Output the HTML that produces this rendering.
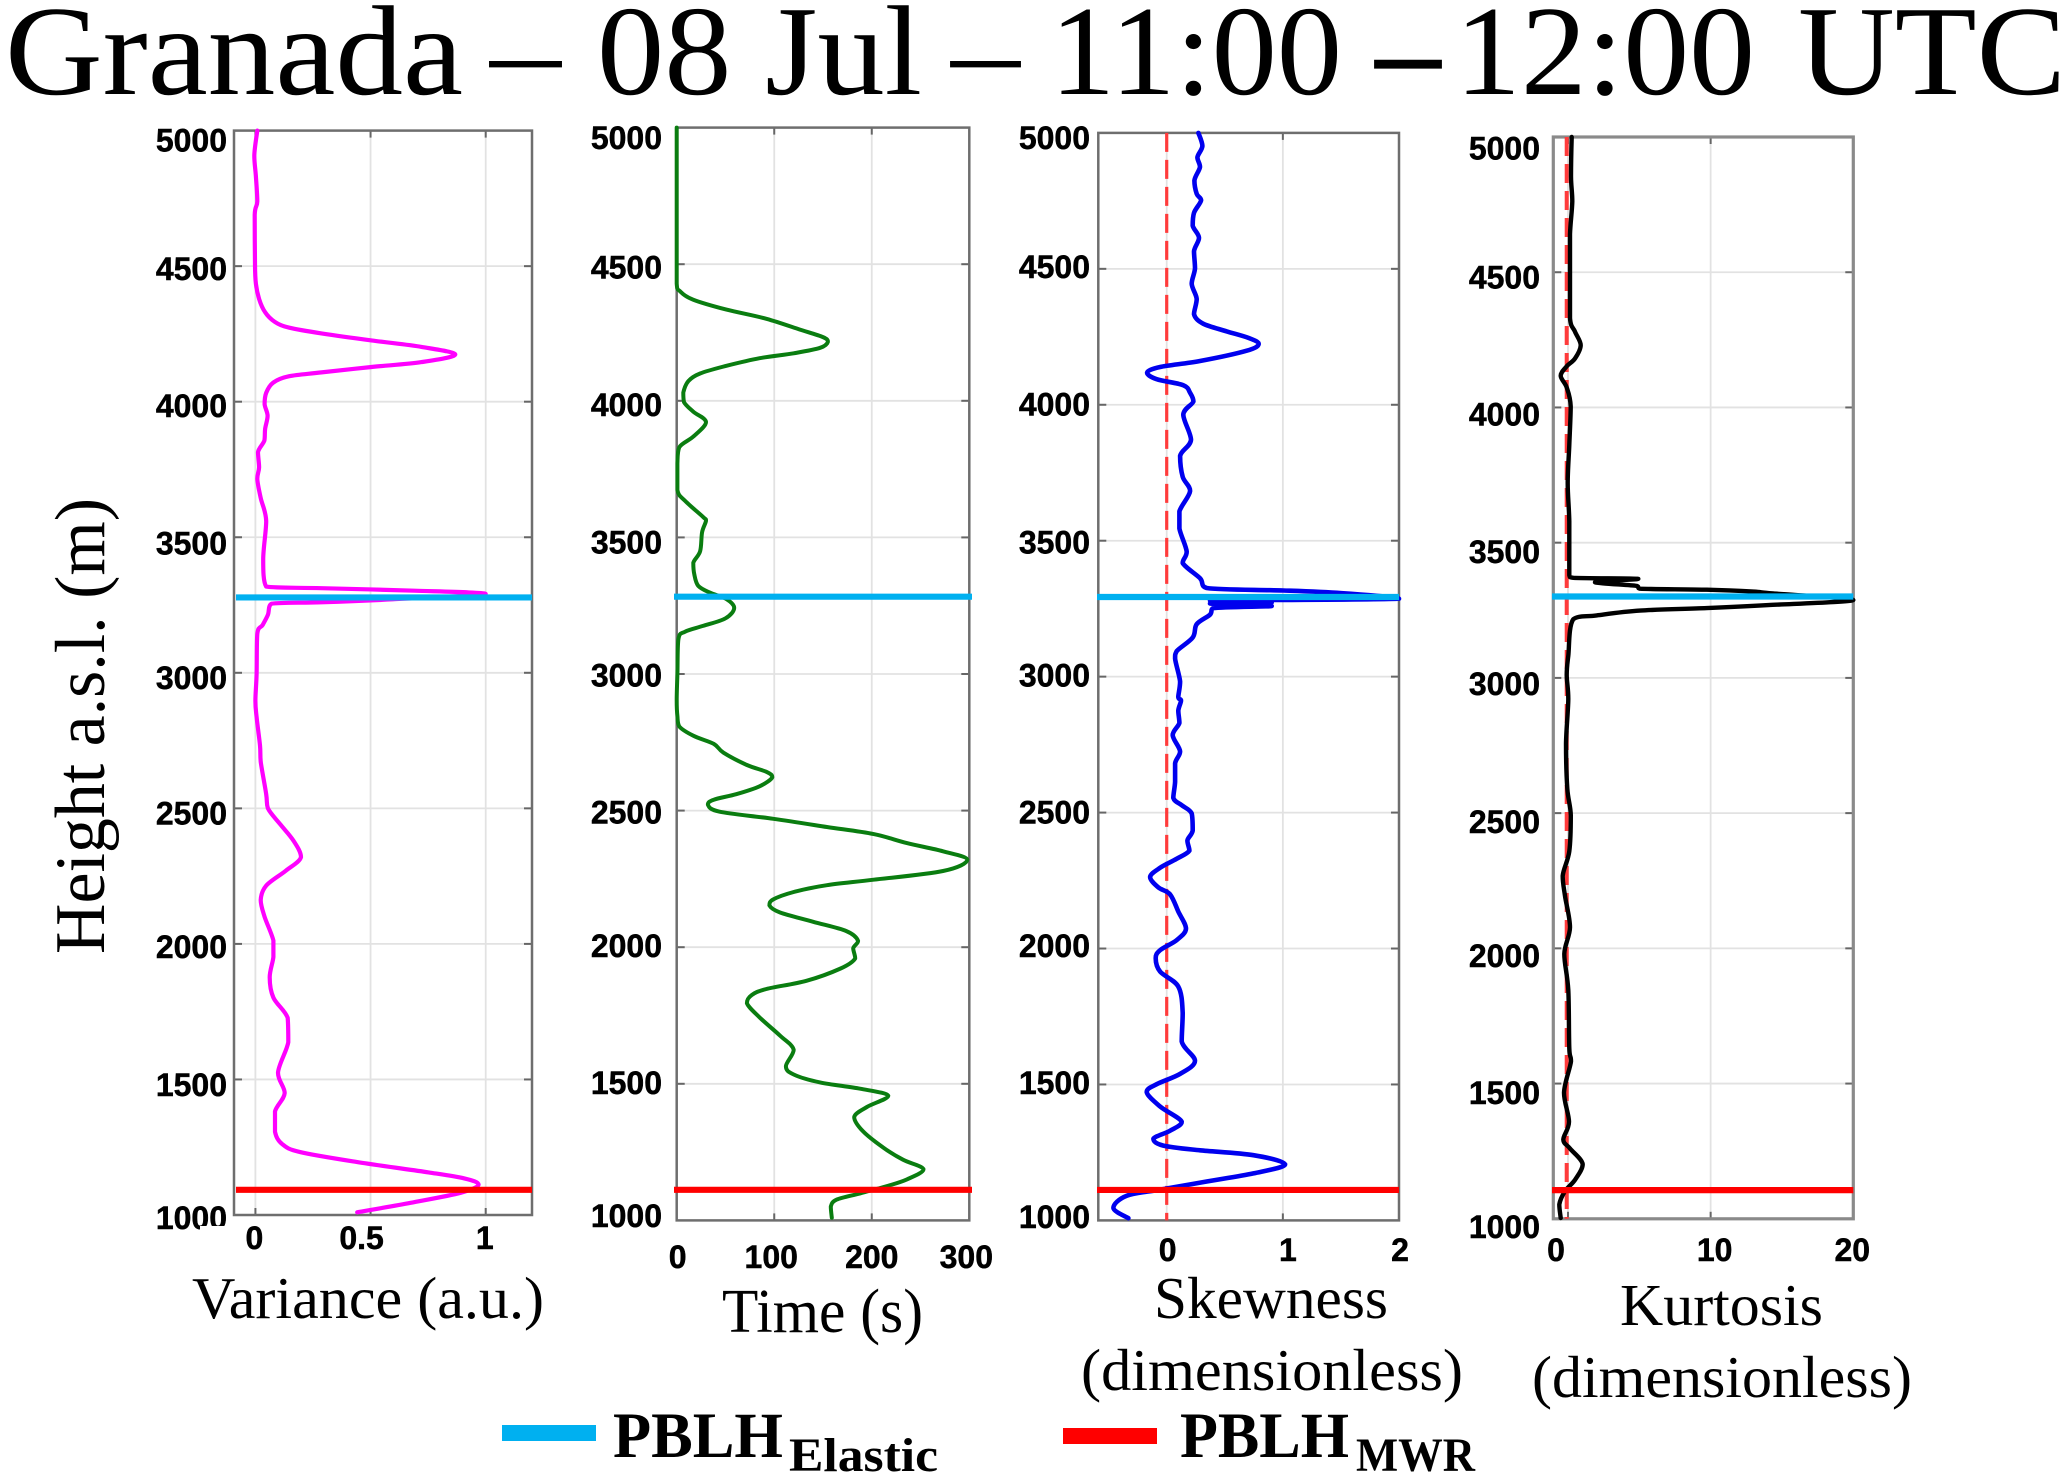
<!DOCTYPE html>
<html lang="en">
<head>
<meta charset="utf-8">
<title>Granada – 08 Jul – 11:00 –12:00 UTC</title>
<style>
html,body{margin:0;padding:0;background:#fff;}
svg{display:block;}
text{font-family:"Liberation Serif",serif;fill:#000;}
.tick{font-family:"Liberation Sans",sans-serif;font-weight:bold;font-size:32px;stroke:#000;stroke-width:0.5px;}
</style>
</head>
<body>
<svg id="chart" xmlns="http://www.w3.org/2000/svg" width="2067" height="1473" viewBox="0 0 2067 1473">
  <rect x="0" y="0" width="2067" height="1473" fill="#fff"/>
  <g font-size="128">
    <text x="5" y="94" textLength="458" lengthAdjust="spacingAndGlyphs">Granada</text>
    <text x="490" y="94" textLength="71" lengthAdjust="spacingAndGlyphs">–</text>
    <text x="597" y="94" textLength="325" lengthAdjust="spacingAndGlyphs">08 Jul</text>
    <text x="951" y="94" textLength="69" lengthAdjust="spacingAndGlyphs">–</text>
    <text x="1050" y="94" textLength="292" lengthAdjust="spacingAndGlyphs">11:00</text>
    <text x="1375" y="94" font-weight="bold" textLength="66" lengthAdjust="spacingAndGlyphs">–</text>
    <text x="1455" y="94" textLength="300" lengthAdjust="spacingAndGlyphs">12:00</text>
    <text x="1798" y="94" textLength="268" lengthAdjust="spacingAndGlyphs">UTC</text>
  </g>
  <text transform="translate(104,954) rotate(-90)" font-size="71" textLength="456" lengthAdjust="spacingAndGlyphs">Height a.s.l. (m)</text>
  <g id="panels"></g>
  <rect x="200" y="1226" width="30" height="8" fill="#fff"/>
  <text x="192" y="1318" font-size="59" textLength="352" lengthAdjust="spacingAndGlyphs">Variance (a.u.)</text>
  <text x="722" y="1332" font-size="62" textLength="201" lengthAdjust="spacingAndGlyphs">Time (s)</text>
  <text x="1154" y="1318" font-size="59" textLength="234" lengthAdjust="spacingAndGlyphs">Skewness</text>
  <text x="1081" y="1390" font-size="59" textLength="382" lengthAdjust="spacingAndGlyphs">(dimensionless)</text>
  <text x="1620" y="1325" font-size="59" textLength="203" lengthAdjust="spacingAndGlyphs">Kurtosis</text>
  <text x="1532" y="1397" font-size="59" textLength="380" lengthAdjust="spacingAndGlyphs">(dimensionless)</text>
  <g>
    <rect x="502" y="1425" width="94" height="16" fill="#00b0f0"/>
    <text x="613" y="1457" font-size="65" font-weight="bold" textLength="170" lengthAdjust="spacingAndGlyphs">PBLH</text>
    <text x="789" y="1471" font-size="48" font-weight="bold" textLength="149" lengthAdjust="spacingAndGlyphs">Elastic</text>
    <rect x="1063" y="1428" width="94" height="16" fill="#ff0000"/>
    <text x="1180" y="1457" font-size="65" font-weight="bold" textLength="169" lengthAdjust="spacingAndGlyphs">PBLH</text>
    <text x="1356" y="1471" font-size="48" font-weight="bold" textLength="119" lengthAdjust="spacingAndGlyphs">MWR</text>
  </g>
</svg>
<script>
// ---- Data ----
const heightTickLabels = [1000, 1500, 2000, 2500, 3000, 3500, 4000, 4500, 5000];

const varianceTicks = [0, 0.5, 1];
const varianceHeights = [5000,4908,4831,4739,4689,4506,4435,4379,4330,4294,4273,4252,4226,4202,4174,4146,4128,4108,4094,4071,4033,3991,3948,3899,3857,3814,3758,3716,3645,3560,3419,3318,3312,3303,3291,3271,3260,3255,3214,3176,3144,2996,2897,2837,2732,2672,2552,2500,2440,2380,2320,2270,2215,2162,2102,2012,1952,1877,1802,1727,1637,1525,1450,1382,1307,1262,1232,1195,1157,1135,1112,1082,1045,1010];
const varianceValues = [.008,-.005,.002,.008,-.003,-.002,.002,.016,.042,.085,.147,.287,.504,.721,.868,.721,.504,.287,.147,.078,.047,.040,.053,.042,.039,.011,.016,.008,.023,.047,.034,.047,.287,.690,1.0,.597,.287,.070,.054,.031,.008,.005,0,.005,.02,.023,.047,.054,.109,.166,.198,.132,.047,.023,.039,.078,.078,.062,.078,.14,.143,.098,.127,.085,.085,.116,.194,.442,.752,.907,.969,.891,.674,.442];

const timeTicks = [0, 100, 200, 300];
const timeHeights = [5000,4429,4401,4370,4334,4300,4261,4233,4216,4194,4174,4156,4128,4100,4072,4030,3995,3960,3922,3869,3830,3771,3673,3634,3575,3561,3519,3449,3407,3365,3323,3298,3274,3242,3204,3176,3155,3127,3001,2905,2846,2808,2774,2744,2712,2667,2642,2622,2589,2560,2540,2522,2496,2470,2440,2414,2381,2351,2320,2279,2247,2227,2202,2175,2153,2127,2093,2059,2023,1996,1959,1922,1877,1847,1825,1795,1743,1676,1624,1564,1534,1505,1482,1456,1415,1378,1326,1266,1222,1187,1150,1125,1099,1076,1050,1010];
const timeValues = [0,0,3.4,17,51,92,126,150,155,147,120,85,51,24,12,6.8,7.5,17,30,17,2.7,.7,.7,8.5,27,30,26,24,17,18,22,34,51,59,50,27,8.5,1.7,.7,0,.7,2.7,17,38,48,72,92,98,85,61,38,32,44,99,154,202,236,273,298,273,202,154,120,99,95,106,140,174,186,181,183,168,133,92,77,72,85,106,120,112,120,147,188,217,195,182,191,212,232,253,236,215,188,164,158,159];

const skewnessTicks = [0, 1, 2];
const skewnessHeights = [5000,4952,4910,4875,4825,4776,4752,4706,4659,4614,4565,4502,4445,4389,4333,4298,4270,4246,4224,4199,4161,4139,4118,4094,4072,4044,4012,3964,3871,3812,3735,3683,3608,3545,3460,3418,3362,3326,3317,3307,3287,3280,3273,3269,3260,3252,3228,3193,3144,3094,3066,2982,2925,2912,2875,2830,2785,2725,2681,2613,2554,2527,2497,2434,2397,2360,2330,2297,2263,2225,2199,2136,2073,2031,1994,1964,1915,1860,1763,1658,1587,1539,1501,1472,1419,1363,1330,1300,1275,1258,1240,1206,1173,1143,1113,1091,1046,1008];
const skewnessValues = [.273,.307,.264,.287,.238,.258,.296,.235,.224,.278,.235,.244,.215,.258,.235,.316,.517,.703,.792,.689,.287,-.057,-.169,-.086,.143,.201,.230,.143,.209,.115,.138,.201,.109,.109,.172,.138,.287,.344,1.004,1.506,2,.373,.904,.373,.904,.4,.373,.258,.224,.086,.072,.115,.1,.123,.1,.109,.052,.115,.072,.072,.057,.129,.215,.224,.178,.195,.086,-.057,-.143,-.072,.029,.1,.166,.086,-.057,-.095,-.057,.1,.138,.129,.244,.115,-.086,-.172,-.057,.129,.029,-.115,-.029,.287,.746,1.019,.746,.344,-.057,-.344,-.459,-.33];

const kurtosisTicks = [0, 10, 20];
const kurtosisHeights = [5000,4854,4762,4641,4500,4330,4280,4230,4181,4152,4117,4074,4004,3862,3720,3578,3380,3370,3366,3354,3340,3330,3326,3319,3312,3288,3269,3258,3249,3231,3217,3082,3011,2922,2756,2591,2492,2359,2268,2194,2078,1979,1846,1631,1582,1466,1359,1293,1260,1202,1144,1102,1053,1003];
const kurtosisValues = [.257,.21,.30,.14,.14,.14,.49,.89,.49,-.09,-.51,-.09,.19,.09,-.02,.09,.09,.37,4.93,1.89,4.81,5.05,9.72,12.99,14.39,20,14.04,9.72,5.05,2.01,.37,.02,-.09,.02,-.14,-.05,.2,.09,-.37,-.21,.14,-.26,.02,.09,.21,-.28,.07,-.33,.14,1.03,.49,-.21,-.61,-.51];

const pblhElasticHeights = [3278, 3283, 3293, 3301];
const pblhMwrHeights = [1093, 1112, 1112, 1106];
const referenceValues = [null, null, 0, -0.09];

// ---- Panel layout (pixel frame of each axes, hand-placed label positions) ----
const panels = [
  {key:'variance', left:234, right:532, top:130.6, bottom:1215, xMin:-0.093, xMax:1.201, ticks:varianceTicks, hs:varianceHeights, vs:varianceValues, color:'#ff00ff', width:4.2, labelRight:227, labelY:[1229,1096,958,824.5,689,554.6,417,280,151.7], xLabelBase:1249, xDx:[-1,-9,-1], lineLeft:236, frame:'#6e6e6e', frameW:2.5},
  {key:'time', left:676.7, right:969.3, top:127.6, bottom:1220.4, xMin:0, xMax:300, ticks:timeTicks, hs:timeHeights, vs:timeValues, color:'#0a7d10', width:4, labelRight:662, labelY:[1227,1094,957,823.7,686.7,553.5,416,278.7,149], xLabelBase:1268, xDx:[1,-3,0,-3], lineLeft:674, lineRight:972, frame:'#6e6e6e', frameW:2.5},
  {key:'skewness', left:1098.3, right:1399, top:132.9, bottom:1220.4, xMin:-0.589, xMax:2, ticks:skewnessTicks, hs:skewnessHeights, vs:skewnessValues, color:'#0000ee', width:4.6, labelRight:1090, labelY:[1227.8,1094,957,823.7,686.7,553.5,415.7,278,149], xLabelBase:1261, xDx:[1,5,1], lineLeft:1097, frame:'#6e6e6e', frameW:2.5},
  {key:'kurtosis', left:1553.3, right:1853.3, top:137, bottom:1218.8, xMin:-1.03, xMax:20, ticks:kurtosisTicks, hs:kurtosisHeights, vs:kurtosisValues, color:'#000000', width:4.4, labelRight:1540, labelY:[1238,1104,967,833,695,563,425.3,288.3,159.3], xLabelBase:1261, xDx:[-12,4,-1], lineLeft:1552, frame:'#8a8a8a', frameW:3.2}
];

const NS = 'http://www.w3.org/2000/svg';
const root = document.getElementById('panels');

function make(tag, parent, props) {
  const el = document.createElementNS(NS, tag);
  for (const k in props) el.setAttribute(k, props[k]);
  parent.appendChild(el);
  return el;
}

function clamp(v, a, b) {
  return Math.min(Math.max(a, b), Math.max(Math.min(a, b), v));
}

// Catmull-Rom path with control points kept inside each segment's box, so peaks don't overshoot.
function smoothPath(pts) {
  let d = 'M' + pts[0][0].toFixed(1) + ' ' + pts[0][1].toFixed(1);
  for (let i = 0; i < pts.length - 1; i++) {
    const p0 = pts[i - 1] || pts[i];
    const p1 = pts[i];
    const p2 = pts[i + 1];
    const p3 = pts[i + 2] || p2;
    const c1x = clamp(p1[0] + (p2[0] - p0[0]) / 6, p1[0], p2[0]);
    const c1y = clamp(p1[1] + (p2[1] - p0[1]) / 6, p1[1], p2[1]);
    const c2x = clamp(p2[0] - (p3[0] - p1[0]) / 6, p1[0], p2[0]);
    const c2y = clamp(p2[1] - (p3[1] - p1[1]) / 6, p1[1], p2[1]);
    d += 'C' + c1x.toFixed(1) + ' ' + c1y.toFixed(1) + ' ' + c2x.toFixed(1) + ' ' + c2y.toFixed(1) + ' ' + p2[0].toFixed(1) + ' ' + p2[1].toFixed(1);
  }
  return d;
}

panels.forEach(function (p, i) {
  const xScale = function (v) { return p.left + (v - p.xMin) / (p.xMax - p.xMin) * (p.right - p.left); };
  const yScale = function (h) { return p.bottom - (h - 1000) / 4000 * (p.bottom - p.top); };

  const g = make('g', root, {});
  
  

  // grid + tick marks
  heightTickLabels.forEach(function (h, k) {
    const y = yScale(h);
    if (h !== 1000 && h !== 5000) {
      const grid = make('line', g, {x1:p.left, x2:p.right, y1:y, y2:y, stroke:'#e2e2e2', 'stroke-width':1.8});
      
      
      const t1 = make('line', g, {x1:p.left, x2:p.left + 8, y1:y, y2:y, stroke:'#666', 'stroke-width':2});
      
      
      const t2 = make('line', g, {x1:p.right - 8, x2:p.right, y1:y, y2:y, stroke:'#666', 'stroke-width':2});
      
      
    }
    const lab = make('text', g, {x:p.labelRight, y:p.labelY[k], 'text-anchor':'end', class:'tick'});
    
    
    lab.textContent = h;
  });

  p.ticks.forEach(function (v, k) {
    const x = xScale(v);
    if (x > p.left + 4 && x < p.right - 4) {
      const grid = make('line', g, {x1:x, x2:x, y1:p.top, y2:p.bottom, stroke:'#e2e2e2', 'stroke-width':1.8});
      
      
      const t1 = make('line', g, {x1:x, x2:x, y1:p.top, y2:p.top + 7, stroke:'#666', 'stroke-width':2});
      
      
      const t2 = make('line', g, {x1:x, x2:x, y1:p.bottom - 7, y2:p.bottom, stroke:'#666', 'stroke-width':2});
      
      
    }
    const lab = make('text', g, {x:x + p.xDx[k], y:p.xLabelBase, 'text-anchor':'middle', class:'tick'});
    
    
    lab.textContent = v;
  });

  // axes frame
  const frame = make('rect', g, {x:p.left, y:p.top, width:p.right - p.left, height:p.bottom - p.top, fill:'none', stroke:p.frame, 'stroke-width':p.frameW});
  
  

  // dashed reference
  if (referenceValues[i] !== null) {
    const rx = xScale(referenceValues[i]);
    const ref = make('line', g, {x1:rx, x2:rx, y1:p.top, y2:p.bottom, stroke:'#ff3b3b', 'stroke-width':i === 3 ? 4 : 3.2, 'stroke-dasharray':'19 8'});
    
    
  }

  // series
  const pts = p.hs.map(function (h, k) {
    return [xScale(p.vs[k]), yScale(h)];
  });
  const curve = make('path', g, {d:smoothPath(pts), fill:'none', stroke:p.color, 'stroke-width':p.width, 'stroke-linejoin':'round', 'stroke-linecap':'round'});
  
  

  // PBLH lines
  const x1 = p.lineLeft;
  const x2 = p.lineRight || p.right;
  const ye = yScale(pblhElasticHeights[i]);
  const elastic = make('line', g, {x1:x1, x2:x2, y1:ye, y2:ye, stroke:'#00b0f0', 'stroke-width':6.2});
  
  
  const ym = yScale(pblhMwrHeights[i]);
  const mwr = make('line', g, {x1:x1, x2:x2, y1:ym, y2:ym, stroke:'#ff0000', 'stroke-width':6.2});
  
  
});
</script>
</body>
</html>
